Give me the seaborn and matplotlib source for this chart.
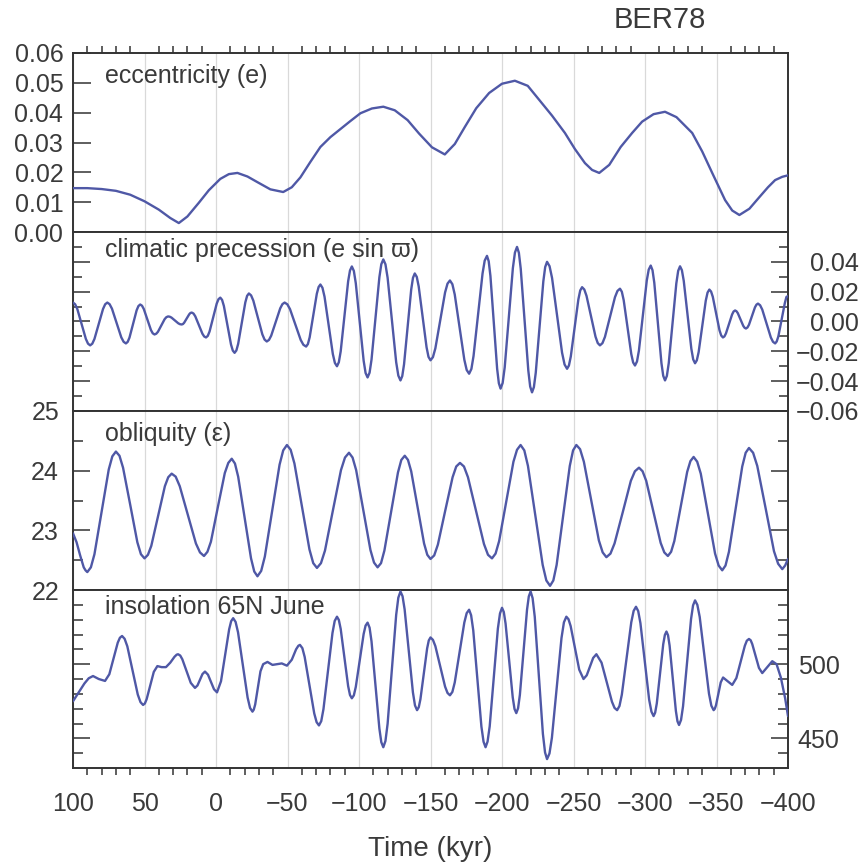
import numpy as np
import pandas as pd
import matplotlib
matplotlib.use("Agg")
import matplotlib.pyplot as plt
import seaborn as sns
from matplotlib.ticker import MultipleLocator, FixedLocator, FuncFormatter

sns.set_style("white")
plt.rcParams['font.family'] = ['Liberation Sans', 'DejaVu Sans']

# ---------------- data ----------------
t_ecc = [100, 90, 80, 70, 60, 50, 40, 32, 26, 20, 12, 5, -3, -9, -15, -22, -29, -38, -47, -53, -59,
         -66, -73, -80, -87, -94, -101, -109, -117, -125, -134, -142, -151, -160, -167, -174, -182,
         -191, -200, -209, -218, -226, -235, -244, -251, -258, -263, -268, -275, -283, -291, -298,
         -306, -314, -322, -333, -340, -347, -356, -361, -366, -373, -380, -386, -391, -396, -400]
ecc = [0.0147, 0.0147, 0.0144, 0.0138, 0.0125, 0.0103, 0.0075, 0.0047, 0.0030, 0.0052, 0.0098,
       0.0140, 0.0178, 0.0194, 0.0198, 0.0186, 0.0167, 0.0143, 0.0134, 0.0150, 0.0183, 0.0235,
       0.0285, 0.0318, 0.0345, 0.0372, 0.0398, 0.0414, 0.0420, 0.0408, 0.0375, 0.0330, 0.0284,
       0.0260, 0.0295, 0.0352, 0.0415, 0.0466, 0.0497, 0.0507, 0.0490, 0.0443, 0.0390, 0.0332,
       0.0278, 0.0231, 0.0208, 0.0198, 0.0225, 0.0285, 0.0332, 0.0370, 0.0395, 0.0403, 0.0385,
       0.0332, 0.0270, 0.0198, 0.0107, 0.0072, 0.0057, 0.0078, 0.0117, 0.0150, 0.0174, 0.0185,
       0.0190]

t_prec = [100, 98.5, 97, 94, 91, 89.5, 88, 86.5, 85, 82,
          79, 77.5, 76, 74.4, 72.75, 69.5, 66.25, 64.6, 63, 61.75,
          60.5, 58, 55.5, 54.25, 53, 51.75, 50.5, 48, 45.5, 44.25,
          43, 41.8, 40.6, 38.25, 35.9, 34.7, 33.5, 32.3, 31.1, 28.75,
          26.4, 25.2, 24, 23.1, 22.25, 20.5, 18.75, 17.9, 17, 15.75,
          14.5, 12, 9.5, 8.25, 7, 5.75, 4.5, 2, -0.5, -1.75,
          -3, -4.25, -5.5, -8, -10.5, -11.75, -13, -14.25, -15.5, -18,
          -20.5, -21.75, -23, -24.55, -26.1, -29.25, -32.4, -33.95, -35.5, -37.05,
          -38.6, -41.75, -44.9, -46.45, -48, -49.9, -51.75, -55.5, -59.25, -61.1,
          -63, -64.25, -65.5, -68, -70.5, -71.75, -73, -74.45, -75.9, -78.8,
          -81.7, -83.15, -84.6, -85.9, -87.2, -89.8, -92.4, -93.7, -95, -96.4,
          -97.75, -100.5, -103.25, -104.6, -106, -107.4, -108.75, -111.5, -114.25, -115.6,
          -117, -118.5, -120, -123, -126, -127.5, -129, -130.25, -131.5, -134,
          -136.5, -137.75, -139, -140.4, -141.75, -144.5, -147.25, -148.6, -150, -151.7,
          -153.4, -156.8, -160.2, -161.9, -163.6, -165.3, -166.95, -170.3, -173.65, -175.3,
          -177, -178.6, -180.1, -183.25, -186.4, -187.9, -189.5, -190.7, -191.9, -194.25,
          -196.6, -197.8, -199, -200.45, -201.9, -204.75, -207.6, -209.05, -210.5, -211.8,
          -213.1, -215.75, -218.4, -219.7, -221, -222.3, -223.6, -226.25, -228.9, -230.2,
          -231.5, -233.25, -235, -238.5, -242, -243.75, -245.5, -246.8, -248.1, -250.75,
          -253.4, -254.7, -256, -257.55, -259.1, -262.25, -265.4, -266.95, -268.5, -270.25,
          -272, -275.5, -279, -280.75, -282.5, -283.8, -285.1, -287.75, -290.4, -291.7,
          -293, -294.4, -295.75, -298.5, -301.25, -302.6, -304, -305.25, -306.5, -309,
          -311.5, -312.75, -314, -315.3, -316.6, -319.25, -321.9, -323.2, -324.5, -325.8,
          -327.1, -329.75, -332.4, -333.7, -335, -336.25, -337.5, -340, -342.5, -343.75,
          -345, -346.2, -347.4, -349.75, -352.1, -353.3, -354.5, -355.55, -356.6, -358.75,
          -360.9, -361.95, -363, -363.95, -364.9, -366.8, -368.7, -369.65, -370.6, -371.65,
          -372.7, -374.8, -376.9, -377.95, -379, -380.5, -382, -385, -388, -389.5,
          -391, -392.1, -393.25, -395.5, -397.75, -398.9, -400]
prec = [0.0127, 0.01155, 0.0084, -0.00165, -0.0117, -0.01485, -0.0160, -0.01485, -0.0117, -0.00165,
        0.0084, 0.01155, 0.0127, 0.0116, 0.0086, -0.0010, -0.0106, -0.0136, -0.0147, -0.01365,
        -0.0108, -0.00165, 0.0075, 0.01035, 0.0114, 0.0106, 0.0084, 0.00135, -0.0057, -0.0079,
        -0.0087, -0.0082, -0.0069, -0.00265, 0.0016, 0.0029, 0.0034, 0.0032, 0.0026, 0.0007,
        -0.0012, -0.0018, -0.0020, -0.0017, -0.0008, 0.0020, 0.0048, 0.0057, 0.0060, 0.00535,
        0.0035, -0.00235, -0.0082, -0.01005, -0.0107, -0.00965, -0.0067, 0.00265, 0.0120, 0.01495,
        0.0160, 0.0145, 0.01045, -0.0025, -0.01545, -0.0195, -0.0210, -0.0194, -0.0150, -0.0011,
        0.0128, 0.0172, 0.0188, 0.0175, 0.0140, 0.0027, -0.0086, -0.0121, -0.0134, -0.01235,
        -0.0095, -0.00035, 0.0088, 0.01165, 0.0127, 0.0115, 0.0083, -0.00205, -0.0124, -0.0156,
        -0.0168, -0.01515, -0.0106, 0.0040, 0.0186, 0.0231, 0.0248, 0.0226, 0.0166, -0.0026,
        -0.0218, -0.0278, -0.0300, -0.0273, -0.0200, 0.00345, 0.0269, 0.0342, 0.0369, 0.0339,
        0.0257, -0.0003, -0.0263, -0.0345, -0.0375, -0.0343, -0.0256, 0.00205, 0.0297, 0.0384,
        0.0416, 0.03835, 0.0294, 0.00105, -0.0273, -0.03625, -0.0395, -0.0366, -0.0287, -0.00365,
        0.0214, 0.0293, 0.0322, 0.0299, 0.0235, 0.0031, -0.0173, -0.0237, -0.0260, -0.0239,
        -0.0180, 0.00075, 0.0195, 0.0254, 0.0275, 0.0250, 0.0181, -0.00375, -0.0256, -0.0325,
        -0.0350, -0.0318, -0.0231, 0.0045, 0.0322, 0.0408, 0.0440, 0.0404, 0.0306, -0.0005,
        -0.0317, -0.0414, -0.0450, -0.0412, -0.0307, 0.0025, 0.0358, 0.0462, 0.0500, 0.0461,
        0.0354, 0.00125, -0.0329, -0.0436, -0.0475, -0.0440, -0.0344, -0.00375, 0.0269, 0.0365,
        0.0400, 0.0371, 0.0292, 0.00415, -0.0209, -0.0288, -0.0317, -0.0295, -0.0235, -0.00435,
        0.0148, 0.0208, 0.0230, 0.02145, 0.0172, 0.0035, -0.0102, -0.01445, -0.0160, -0.0145,
        -0.0103, 0.0030, 0.0163, 0.0205, 0.0220, 0.01995, 0.0143, -0.00375, -0.0218, -0.02745,
        -0.0295, -0.0268, -0.0195, 0.0040, 0.0275, 0.0348, 0.0375, 0.0344, 0.02595, -0.0010,
        -0.02795, -0.0364, -0.0395, -0.03645, -0.0280, -0.00125, 0.0255, 0.03395, 0.0370, 0.0344,
        0.02725, 0.0045, -0.01825, -0.0254, -0.0280, -0.0260, -0.0206, -0.0033, 0.0140, 0.0194,
        0.0214, 0.0201, 0.0166, 0.00535, -0.0059, -0.0094, -0.0107, -0.0100, -0.0080, -0.00165,
        0.0047, 0.0067, 0.0074, 0.0069, 0.0056, 0.00135, -0.0029, -0.0042, -0.0047, -0.0040,
        -0.0022, 0.00365, 0.0095, 0.0113, 0.0120, 0.0109, 0.0080, -0.00135, -0.0107, -0.0136,
        -0.0147, -0.0134, -0.0100, 0.00115, 0.0122, 0.0165, 0.0170]

t_obl = [100, 97.5, 95, 92.5, 91.25, 90, 87.5, 85, 80, 75,
         72.5, 70, 67.5, 65, 60, 55, 52.5, 50, 47.6, 45.25,
         40.5, 35.75, 33.4, 31, 28.2, 25.35, 19.7, 14.05, 11.2, 8.4,
         6.0, 3.55, -1.3, -6.15, -8.6, -11, -13.25, -15.5, -20, -24.5,
         -26.75, -29, -31.6, -34.15, -39.3, -44.45, -47.0, -49.6, -52.2, -54.85,
         -60.1, -65.35, -68.0, -70.6, -73.4, -76.2, -81.8, -87.4, -90.2, -93,
         -95.5, -98, -103, -108, -110.5, -113, -115.4, -117.75, -122.5, -127.25,
         -129.6, -132, -134.25, -136.5, -141, -145.5, -147.75, -150, -152.6, -155.15,
         -160.3, -165.45, -168.0, -170.6, -173.4, -176.2, -181.8, -187.4, -190.2, -193,
         -195.5, -198, -203, -208, -210.5, -213, -215.6, -218.15, -223.3, -228.45,
         -231.0, -233.6, -235.9, -238.2, -242.8, -247.4, -249.7, -252, -254.6, -257.25,
         -262.5, -267.75, -270.4, -273, -275.85, -278.7, -284.4, -290.1, -292.95, -295.8,
         -298.3, -300.85, -305.9, -310.95, -313.5, -316, -318.25, -320.5, -325, -329.5,
         -331.75, -334, -336.5, -339, -344, -349, -351.5, -354, -356.3, -358.7,
         -363.35, -368, -370.4, -372.7, -375.6, -378.5, -384.35, -390.2, -393.1, -396,
         -398, -400]
obl = [22.95, 22.80, 22.58, 22.38, 22.33, 22.30, 22.38, 22.60, 23.31, 24.02,
       24.24, 24.32, 24.25, 24.05, 23.43, 22.80, 22.60, 22.53, 22.59, 22.74,
       23.24, 23.74, 23.89, 23.95, 23.90, 23.74, 23.26, 22.78, 22.63, 22.57,
       22.64, 22.81, 23.39, 23.96, 24.13, 24.20, 24.12, 23.90, 23.22, 22.53,
       22.31, 22.23, 22.32, 22.56, 23.33, 24.10, 24.34, 24.43, 24.35, 24.12,
       23.40, 22.68, 22.45, 22.37, 22.45, 22.66, 23.34, 24.01, 24.22, 24.30,
       24.22, 24.01, 23.34, 22.67, 22.46, 22.38, 22.45, 22.66, 23.32, 23.97,
       24.18, 24.25, 24.18, 23.99, 23.39, 22.78, 22.59, 22.52, 22.58, 22.76,
       23.33, 23.89, 24.07, 24.13, 24.07, 23.89, 23.33, 22.77, 22.59, 22.53,
       22.61, 22.82, 23.48, 24.15, 24.35, 24.43, 24.34, 24.08, 23.25, 22.42,
       22.16, 22.07, 22.16, 22.42, 23.25, 24.08, 24.34, 24.43, 24.36, 24.15,
       23.49, 22.83, 22.63, 22.55, 22.61, 22.78, 23.30, 23.83, 23.99, 24.05,
       23.99, 23.83, 23.31, 22.79, 22.63, 22.57, 22.64, 22.82, 23.40, 23.98,
       24.16, 24.23, 24.15, 23.95, 23.28, 22.61, 22.41, 22.33, 22.41, 22.64,
       23.36, 24.07, 24.30, 24.38, 24.30, 24.08, 23.37, 22.65, 22.44, 22.35,
       22.41, 22.52]

t_ins = [100, 96, 92, 89, 86, 82, 77.6, 74.6, 71.65, 68.7,
         67.2, 65.7, 63.9, 62.0, 58.35, 54.7, 52.8, 51, 49.75, 48.5,
         46, 43.5, 41, 38, 35, 32, 29, 27.5, 26.5, 25.0,
         23.55, 20.6, 17.65, 14.7, 12.95, 11.2, 9.45, 7.7, 5.6, 3.5,
         1.4, -0.7, -3.5, -6.35, -9.2, -10.6, -12, -13.7, -15.4, -18.75,
         -22.1, -23.8, -25.5, -26.4, -27.4, -29.25, -31.1, -33, -36, -39.5,
         -42.6, -46, -49.6, -53, -56, -57.6, -58.7, -60.4, -62.0, -65.35,
         -68.7, -70.35, -72, -73.6, -75.15, -78.3, -81.45, -83.0, -84.6, -85.9,
         -87.2, -89.8, -92.4, -93.7, -95, -96.4, -97.75, -100.5, -103.25, -104.6,
         -106, -107.4, -108.75, -111.5, -114.25, -115.6, -117, -118.5, -120, -123,
         -126, -127.5, -129, -130.45, -131.9, -134.8, -137.7, -139.15, -140.6, -141.8,
         -142.95, -145.3, -147.65, -148.8, -150, -151.7, -153.4, -156.8, -160.2, -161.9,
         -163.6, -165.3, -166.95, -170.3, -173.65, -175.3, -177, -178.4, -179.9, -182.75,
         -185.6, -187.1, -188.5, -189.9, -191.4, -194.25, -197.1, -198.6, -200, -201.25,
         -202.5, -205, -207.5, -208.75, -210, -211.25, -212.5, -215, -217.5, -218.75,
         -220, -221.4, -222.9, -225.75, -228.6, -230.1, -231.5, -233.2, -234.9, -238.25,
         -241.6, -243.3, -245, -246.5, -248, -251, -254, -257, -259.25, -261.5,
         -263.75, -266, -269.6, -273.25, -276.9, -278.7, -280.5, -282.15, -283.8, -287.1,
         -290.4, -292.05, -293.7, -295.25, -296.8, -299.85, -302.9, -304.5, -306, -307.1,
         -308.25, -310.5, -312.75, -313.9, -315, -316.1, -317.2, -319.4, -321.6, -322.7,
         -323.8, -325.2, -326.6, -329.4, -332.2, -333.6, -335, -336.6, -338.25, -341.5,
         -344.75, -346.4, -348, -348.8, -349.65, -351.3, -352.95, -354.6, -357.8, -361,
         -363.9, -366.85, -369.8, -371.2, -372.7, -373.9, -375.0, -377.35, -379.7, -382,
         -385.5, -389, -392, -395, -398, -400]
ins = [475, 481, 487, 490.5, 492, 490, 488.7, 493.2, 503.85, 514.5,
       517.8, 519, 517.1, 512.0, 495.75, 479.5, 474.4, 472.5, 473.5, 476.4,
       485.6, 494.8, 498.7, 498, 498, 501, 505, 506.4, 506.7, 505.8,
       503.3, 495.35, 487.4, 484, 485.65, 489.5, 493.35, 495, 492.9, 488,
       483.1, 481, 488.5, 506, 523.5, 529, 531, 528.5, 521.5, 499.5,
       477.5, 470.5, 468, 469.3, 472.8, 484, 495.2, 500, 501.5, 499.5,
       500, 500.5, 499, 503, 510, 512.4, 513, 510.8, 504.9, 485.85,
       466.8, 460.9, 458.7, 461.6, 469.7, 495.35, 521.0, 529.1, 532, 529.8,
       523.75, 504.5, 485.25, 479.2, 477, 479.0, 484.65, 502.5, 520.35, 526,
       528, 524.6, 515.4, 486, 456.6, 447.4, 444, 448.2, 459.75, 496.5,
       533.25, 544.8, 549, 545.8, 537, 509, 481, 472.2, 469, 471,
       476.35, 493.5, 510.65, 516, 518, 516.4, 512.15, 498.5, 484.85, 480.6,
       479, 481.3, 487.65, 507.85, 528.05, 534.4, 536.7, 533, 522.8, 490.35,
       457.9, 447.7, 444, 447.8, 458.1, 491, 523.9, 534.2, 538, 535.2,
       527.35, 502.5, 477.65, 469.8, 467, 470.3, 479.3, 508, 536.7, 545.7,
       549, 544.5, 532, 492.5, 453, 440.5, 436, 439.8, 450.4, 484,
       517.6, 528.2, 532, 530.3, 525.7, 511, 496.3, 490, 492.5, 498.35,
       504.2, 506.7, 501.05, 487.85, 474.65, 470.5, 469, 471.8, 479.45, 503.85,
       528.25, 535.9, 538.7, 535.8, 527.65, 501.85, 476.05, 468, 465, 467.3,
       473.55, 493.5, 513.45, 519.7, 522, 519.5, 512.55, 490.5, 468.45, 461.5,
       459, 462.4, 471.6, 501, 530.4, 539.6, 543, 540, 531.9, 506,
       480.1, 472, 469, 469.9, 472.3, 480, 487.7, 491, 488.5, 486,
       490.65, 501.5, 512.35, 515.8, 517, 516.1, 513.55, 505.5, 497.45, 494,
       498, 502, 500, 491, 477, 465]

panel_labels = ["eccentricity (e)", "climatic precession (e sin \u03d6)",
                "obliquity (\u03b5)", "insolation 65N June"]
x_ticks = [100, 50, 0, -50, -100, -150, -200, -250, -300, -350, -400]
title = "BER78"
xlabel = "Time (kyr)"

# ---------------- styling ----------------
LINE = '#4f58a6'
SPINE = '#333333'
TXT = '#3a3a3a'
GRID = '#d9d9d9'
FS = 18

W, H = 864, 867
fig = plt.figure(figsize=(W / 100, H / 100), dpi=100)
L, R = 73, 788
tops = [53, 232, 411, 590]
bots = [232, 411, 590, 768]

series = [(t_ecc, ecc), (t_prec, prec), (t_obl, obl), (t_ins, ins)]
ylims = [(0.0, 0.06), (-0.06, 0.06), (22, 25), (430, 550)]
label_y = [0.87, 0.90, 0.87, 0.905]

minor_x = [v for v in range(90, -400, -10) if v % 50 != 0]


def minus_fmt(fmt):
    return FuncFormatter(lambda v, p: (fmt % v).replace('-', '\u2212'))


axes = []
for i, (tp, bt) in enumerate(zip(tops, bots)):
    ax = fig.add_axes([L / W, 1 - bt / H, (R - L) / W, (bt - tp) / H])
    axes.append(ax)
    tt, vv = series[i]
    df = pd.DataFrame({'t': tt, 'v': vv})
    sns.lineplot(data=df, x='t', y='v', ax=ax, color=LINE, linewidth=1.7,
                 sort=False, estimator=None, legend=False, zorder=3,
                 solid_joinstyle='round', solid_capstyle='round')
    ax.set_xlim(100, -400)
    ax.set_ylim(*ylims[i])
    ax.set_xlabel('')
    ax.set_ylabel('')
    ax.set_facecolor('white')
    for s in ax.spines.values():
        s.set_visible(True)
        s.set_color(SPINE)
        s.set_linewidth(1.4)
    ax.xaxis.set_major_locator(FixedLocator(x_ticks))
    ax.xaxis.set_minor_locator(FixedLocator(minor_x))
    ax.grid(axis='x', which='major', color=GRID, linewidth=0.9, zorder=0)
    ax.grid(axis='y', visible=False)
    ax.set_axisbelow(True)
    ax.tick_params(axis='x', which='both', bottom=False, top=False,
                   labelbottom=False, labeltop=False)
    ax.tick_params(axis='both', which='both', colors=SPINE, width=1.1, labelcolor=TXT,
                   labelsize=FS)
    ax.text(0.045, label_y[i], panel_labels[i], transform=ax.transAxes, fontsize=FS,
            va='center', ha='left', color=TXT, zorder=5)

# panel 1: eccentricity
ax = axes[0]
ax.yaxis.set_major_locator(MultipleLocator(0.01))
ax.yaxis.set_major_formatter(minus_fmt('%.2f'))
ax.tick_params(axis='y', which='major', direction='in', length=13, left=True, right=False,
               labelleft=True, labelright=False, pad=7)
ax.tick_params(axis='x', which='minor', top=True, direction='out', length=5)

# panel 2: precession
ax = axes[1]
ax.yaxis.set_major_locator(FixedLocator([-0.06, -0.04, -0.02, 0.0, 0.02, 0.04]))
ax.yaxis.set_minor_locator(FixedLocator([-0.05, -0.03, -0.01, 0.01, 0.03, 0.05]))
ax.yaxis.set_major_formatter(minus_fmt('%.2f'))
ax.tick_params(axis='y', which='major', direction='in', length=12, left=True, right=True,
               labelleft=False, labelright=True, pad=51)
ax.tick_params(axis='y', which='minor', direction='in', length=6.5, left=True, right=True)
for tk in ax.yaxis.get_major_ticks():
    tk.label2.set_horizontalalignment('right')

# panel 3: obliquity
ax = axes[2]
ax.yaxis.set_major_locator(FixedLocator([22, 23, 24, 25]))
ax.yaxis.set_minor_locator(FixedLocator([22.5, 23.5, 24.5]))
ax.yaxis.set_major_formatter(FuncFormatter(lambda v, p: '%d' % v))
ax.tick_params(axis='y', which='major', direction='in', length=12.5, left=True, right=True,
               labelleft=True, labelright=False, pad=10)
ax.tick_params(axis='y', which='minor', direction='in', length=7.5, left=True, right=True)

# panel 4: insolation
ax = axes[3]
ax.yaxis.set_major_locator(FixedLocator([450, 500]))
ax.yaxis.set_minor_locator(FixedLocator([440, 460, 470, 480, 490, 510, 520, 530, 540]))
ax.yaxis.set_major_formatter(FuncFormatter(lambda v, p: '%d' % v))
ax.tick_params(axis='y', which='major', direction='in', length=12.5, left=True, right=True,
               labelleft=False, labelright=True, pad=7)
ax.tick_params(axis='y', which='minor', direction='in', length=7, left=True, right=True)
ax.xaxis.set_major_formatter(minus_fmt('%d'))
ax.tick_params(axis='x', which='major', bottom=True, length=0, labelbottom=True, pad=17)
ax.tick_params(axis='x', which='minor', bottom=True, direction='out', length=5)
ax.set_xlabel(xlabel, fontsize=20, color=TXT, labelpad=15)

fig.text(660 / W, 1 - 20 / H, title, fontsize=21, ha='center', va='center', color=TXT)

fig.savefig('out.png', dpi=100, facecolor='white')
